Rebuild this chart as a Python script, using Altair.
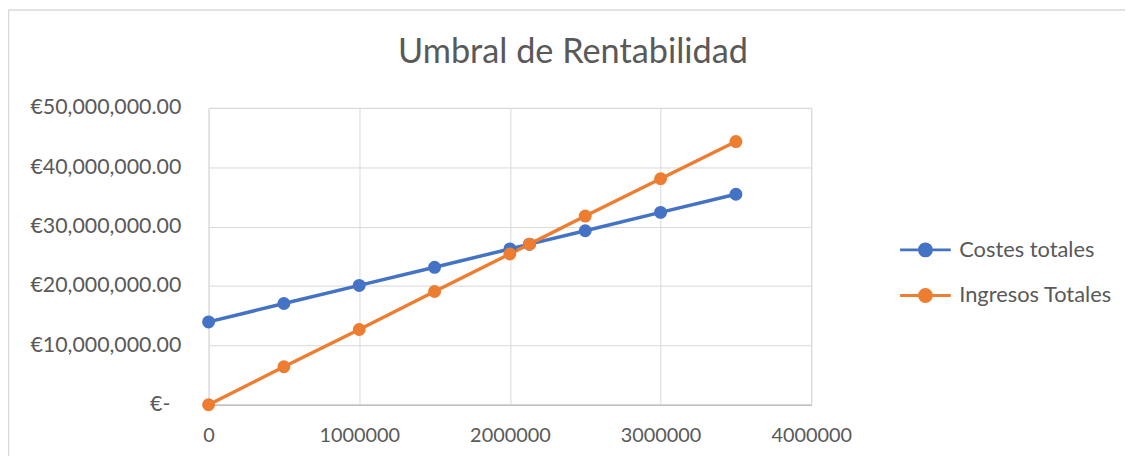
import altair as alt
import pandas as pd

units = [0, 500000, 1000000, 1500000, 2000000, 2130000, 2500000, 3000000, 3500000]
costes = [13950000, 17050000, 20100000, 23150000, 26250000, 27050000, 29300000, 32400000, 35450000]
ingresos = [0, 6400000, 12670000, 19070000, 25400000, 27050000, 31780000, 38070000, 44330000]
series_names = ["Costes totales", "Ingresos Totales"]
series_colors = ["#4472C4", "#ED7D31"]
x_ticks = [0, 1000000, 2000000, 3000000, 4000000]
y_ticks = [0, 10000000, 20000000, 30000000, 40000000, 50000000]
title_text = "Umbral de Rentabilidad"

rows = []
for i, u in enumerate(units):
    rows.append({"x": u, "y": costes[i], "serie": series_names[0], "o": 0})
for i, u in enumerate(units):
    rows.append({"x": u, "y": ingresos[i], "serie": series_names[1], "o": 1})
df = pd.DataFrame(rows)

FONT = "Lato"
TXT = "#595959"
GRID = "#D9D9D9"

# legend symbol: line with filled circle (concentric rings)
def ring(r):
    return f"M{-r},0A{r},{r} 0 1,0 {r},0A{r},{r} 0 1,0 {-r},0"
sym = "M-1,0H1" + ring(0.05) + ring(0.15) + ring(0.235)

color = alt.Color(
    "serie:N",
    scale=alt.Scale(domain=series_names, range=series_colors),
    legend=alt.Legend(
        title=None, orient="none", legendX=695, legendY=116,
        symbolType=sym, symbolSize=2601, symbolStrokeWidth=3,
        labelFont=FONT, labelFontSize=22, labelColor=TXT,
        labelOffset=7, rowPadding=7,
    ),
)

x = alt.X("x:Q", scale=alt.Scale(domain=[0, 4000000], nice=False),
          axis=alt.Axis(values=x_ticks, format="d", title=None, grid=True, labelFlush=False,
                        gridColor=GRID, domainColor="#BFBFBF", domainWidth=1.5, ticks=False,
                        labelFont=FONT, labelFontSize=20, labelColor=TXT, labelPadding=21))
y = alt.Y("y:Q", scale=alt.Scale(domain=[0, 50000000], nice=False),
          axis=alt.Axis(values=y_ticks, title=None, grid=True, gridColor=GRID,
                        domain=False, ticks=False,
                        labelPadding={"condition": {"test": "datum.value == 0", "value": 39}, "value": 28},
                        labelExpr="datum.value == 0 ? '€-' : '€' + format(datum.value, ',.2f')",
                        labelFont=FONT, labelFontSize=21.5, labelColor=TXT))

lines = alt.Chart(df).mark_line(strokeWidth=3.5).encode(
    x=x, y=y, color=color, detail="serie:N", order="o:Q"
)
points = alt.Chart(df).mark_point(filled=True, size=170, opacity=1).encode(
    x="x:Q", y="y:Q",
    color=alt.Color("serie:N", scale=alt.Scale(domain=series_names, range=series_colors), legend=None),
)

tdf = pd.DataFrame({"t": [title_text]})
title = alt.Chart(tdf).mark_text(font=FONT, fontSize=34.5, color=TXT, align="center", baseline="middle").encode(
    text="t:N", x=alt.value(367), y=alt.value(-55)
)
frame = alt.Chart(tdf).mark_rect(fill=None, stroke=GRID, strokeWidth=1.5).encode(
    x=alt.value(-201.5), y=alt.value(-98.5), x2=alt.value(3000), y2=alt.value(3000)
)

chart = alt.layer(frame, lines, points, title).properties(
    width=607, height=299,
    autosize=alt.AutoSizeParams(type="none"),
    padding={"left": 202, "top": 99, "right": 316, "bottom": 50},
).configure_view(stroke=GRID, strokeWidth=1.5).configure(background="white")

chart.save("out.html", embed_options={"renderer": "svg", "actions": False})
